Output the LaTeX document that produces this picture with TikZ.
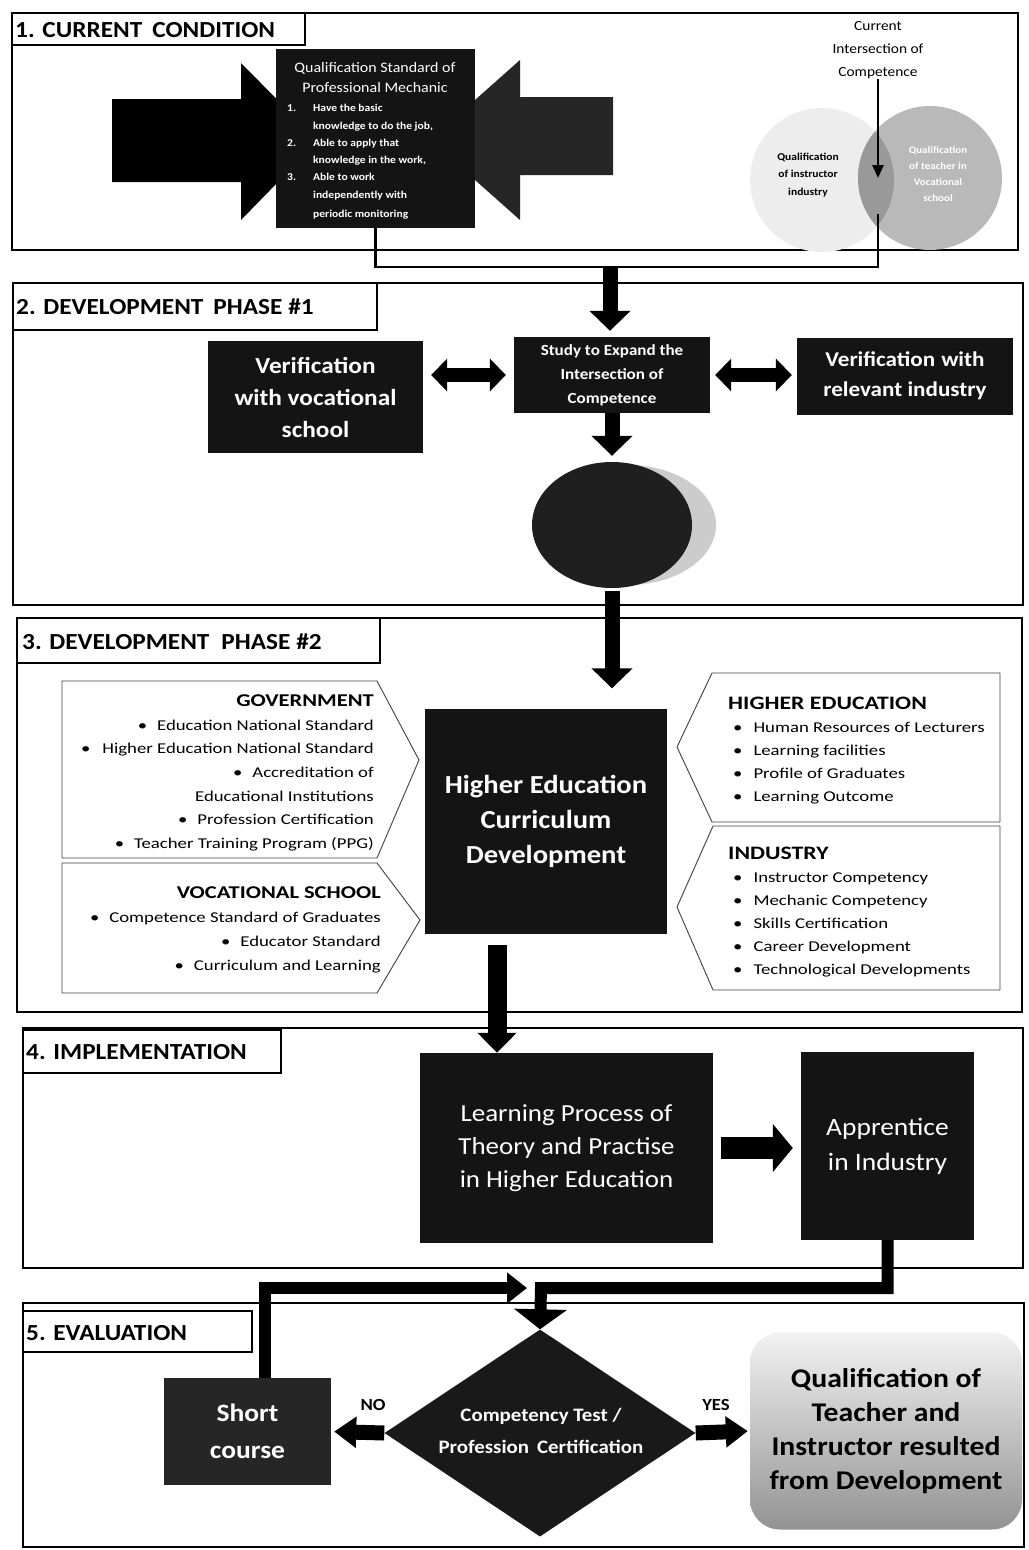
\documentclass[tikz,border=0pt]{standalone}
\usepackage{fontspec}
\setmainfont{Carlito}[FakeStretch=1.1]
\newfontfamily\widefont{Carlito}[FakeStretch=1.25]
\usetikzlibrary{arrows.meta,shapes.geometric}
\newcommand{\setfs}[2]{\fontsize{#1}{#2}\selectfont}
\begin{document}
\begin{tikzpicture}[x=1pt,y=-1pt,
  frame/.style={draw, line width=1.8pt},
  ttl/.style={draw, line width=1.4pt},
  ttltext/.style={anchor=base west, inner sep=0, font=\bfseries\setfs{23}{26}},
  blk/.style={fill=black!92, text=white, align=center, inner sep=0},
  chev/.style={draw=black!75, line width=0.9pt},
  lstl/.style={anchor=base west, inner sep=0, font=\widefont\setfs{15}{18}},
  lstr/.style={anchor=base east, inner sep=0, font=\widefont\setfs{15}{18}},
  hdl/.style={anchor=base west, inner sep=0, font=\widefont\bfseries\setfs{19}{22}},
  hdr/.style={anchor=base east, inner sep=0, font=\widefont\bfseries\setfs{18}{22}},
  qnum/.style={anchor=base west, inner sep=0, text=white, font=\bfseries\setfs{10.5}{13}},
  qtxt/.style={anchor=base west, inner sep=0, text=white, font=\bfseries\setfs{10.5}{13}},
  thin/.style={line width=2.6pt},
  vbar/.style={line width=15pt, -{Triangle[width=40pt,length=20pt]}},
  dbl/.style={line width=14pt, {Triangle[width=32pt,length=16pt]}-{Triangle[width=32pt,length=16pt]}},
  harr/.style={line width=22pt, -{Triangle[width=47pt,length=20pt]}},
  sarr/.style={line width=15pt, -{Triangle[width=30pt,length=22pt]}},
  elbow/.style={line width=12pt, line join=miter}
]
\useasboundingbox (0,0) rectangle (1028,1550);
\fill[white] (0,0) rectangle (1028,1550);

% ---------------- Section 1
\draw[frame] (12,13) rectangle (1018,250);
\draw[ttl] (12,13) rectangle (305,45);
\node[ttltext] (t1) at (15,37) {1. CURRENT\hspace{10pt}CONDITION};

\fill[black] (112,99) -- (241,99) -- (241,63) -- (318,141) -- (241,220) -- (241,182) -- (112,182) -- cycle;
\fill[black!85] (613,97) -- (520,97) -- (520,60) -- (430,140) -- (520,220) -- (520,175) -- (613,175) -- cycle;
\node[blk, minimum width=199pt, minimum height=179pt] (qs) at (375.5,138.5) {};
\node[anchor=base, inner sep=0, text=white, font=\setfs{14.5}{18}] (qsh1) at (375,72) {Qualification Standard of};
\node[anchor=base, inner sep=0, text=white, font=\setfs{14.5}{18}] (qsh2) at (375,92) {Professional Mechanic};
\node[qnum] (n1) at (287,111) {1.};
\node[qtxt] (l1a) at (313,111) {Have the basic};
\node[qtxt] (l1b) at (313,129) {knowledge to do the job,};
\node[qnum] (n2) at (287,146) {2.};
\node[qtxt] (l2a) at (313,146) {Able to apply that};
\node[qtxt] (l2b) at (313,163) {knowledge in the work,};
\node[qnum] (n3) at (287,180) {3.};
\node[qtxt] (l3a) at (313,180) {Able to work};
\node[qtxt] (l3b) at (313,198) {independently with};
\node[qtxt] (l3c) at (313,217) {periodic monitoring};

% Venn
\fill[gray!14] (822,180) circle[radius=72pt];
\fill[gray!55] (930,178) circle[radius=72pt];
\begin{scope}
  \clip (822,180) circle[radius=72pt];
  \fill[gray!80] (930,178) circle[radius=72pt];
\end{scope}
\node[align=center, inner sep=0, font=\bfseries\setfs{10.5}{17.5}] (vl) at (808,175) {Qualification\\of instructor\\industry};
\node[align=center, inner sep=0, text=white, font=\bfseries\setfs{10}{16}] (vr) at (938,174) {Qualification\\of teacher in\\Vocational\\school};
\node[align=center, inner sep=0, font=\setfs{14}{23}] (cur) at (878,50) {Current\\Intersection of\\Competence};
\coordinate (lensT) at (878,178);
\coordinate (lensB) at (878,214);
\coordinate (c1) at (878,267);
\coordinate (j1) at (610,267);
\draw[thin, -{Triangle[width=11pt,length=13pt]}] (cur.south) -- (lensT);
\draw[thin] (qs.south) |- (c1) -- (lensB);

% ---------------- Section 2
\draw[frame] (13,283) rectangle (1023,605);
\draw[ttl] (13,283) rectangle (377,330);
\node[ttltext] (t2) at (16,314) {2. DEVELOPMENT\hspace{10pt}PHASE \#1};
\node[blk, minimum width=215pt, minimum height=112pt, font=\bfseries\setfs{23}{32}] (ver1) at (315.5,397) {Verification\\with vocational\\school};
\node[blk, minimum width=196pt, minimum height=76pt, font=\bfseries\setfs{15.5}{24}] (study) at (612,375) {Study to Expand the\\Intersection of\\Competence};
\node[blk, minimum width=216pt, minimum height=77pt, font=\bfseries\setfs{21}{30}] (ver2) at (905,376) {Verification\hspace{6pt}with\\relevant industry};
\fill[gray!40] (628,525) ellipse [x radius=88pt, y radius=60pt];
\node[ellipse, fill=black!88, minimum width=160pt, minimum height=126pt, inner sep=0] (disc) at (612,525) {};

\draw[vbar, shorten >=6pt] (j1) -- (j1 |- study.north);
\draw[dbl, shorten <=8pt, shorten >=8pt] (ver1.east |- study.west) -- (study.west);
\draw[dbl, shorten <=5pt, shorten >=5pt] (study.east) -- (ver2.west |- study.east);
\draw[vbar, shorten >=6pt] (study.south) -- (study.south |- disc.north);

% ---------------- Section 3
\draw[frame] (17,618) rectangle (1022,1012);
\draw[ttl] (17,618) rectangle (380,663);
\node[ttltext] (t3) at (22,649) {3. DEVELOPMENT\hspace{12pt}PHASE \#2};
\node[blk, minimum width=242pt, minimum height=225pt, font=\bfseries\setfs{26}{35}] (hecd) at (546,821) {Higher Education\\Curriculum\\Development};
\draw[vbar, shorten <=3pt, shorten >=20pt] (disc.south) -- (disc.south |- hecd.north);

\draw[chev] (62,681) -- (377,681) -- (419,760) -- (377,858) -- (62,858) -- cycle;
\draw[chev] (62,863) -- (377,863) -- (420,920) -- (377,993) -- (62,993) -- cycle;
\draw[chev] (712,673) -- (1000,673) -- (1000,822) -- (712,822) -- (677,747) -- cycle;
\draw[chev] (713,826) -- (1000,826) -- (1000,990) -- (713,990) -- (677,907) -- cycle;

\node[hdr] (gh) at (374,706) {GOVERNMENT};
\node[lstr] (g1) at (374,730) {•\hspace{10pt}Education National Standard};
\node[lstr] (g2) at (374,753) {•\hspace{12pt}Higher Education National Standard};
\node[lstr] (g3) at (374,777) {•\hspace{10pt}Accreditation of};
\node[lstr] (g4) at (374,801) {Educational Institutions};
\node[lstr] (g5) at (374,824) {•\hspace{10pt}Profession Certification};
\node[lstr] (g6) at (374,848) {•\hspace{10pt}Teacher Training Program (PPG)};

\node[hdr] (vh) at (381,898) {VOCATIONAL SCHOOL};
\node[lstr] (v1) at (381,922) {•\hspace{10pt}Competence Standard of Graduates};
\node[lstr] (v2) at (381,946) {•\hspace{10pt}Educator Standard};
\node[lstr] (v3) at (381,970) {•\hspace{10pt}Curriculum and Learning};

\node[hdl] (hh) at (728,709) {HIGHER EDUCATION};
\node[lstl] (h1) at (733,732) {•\hspace{11pt}Human Resources of Lecturers};
\node[lstl] (h2) at (733,755) {•\hspace{11pt}Learning facilities};
\node[lstl] (h3) at (733,778) {•\hspace{11pt}Profile of Graduates};
\node[lstl] (h4) at (733,801) {•\hspace{11pt}Learning Outcome};

\node[hdl] (ih) at (728,859) {INDUSTRY};
\node[lstl] (i1) at (733,882) {•\hspace{11pt}Instructor Competency};
\node[lstl] (i2) at (733,905) {•\hspace{11pt}Mechanic Competency};
\node[lstl] (i3) at (733,928) {•\hspace{11pt}Skills Certification};
\node[lstl] (i4) at (733,951) {•\hspace{11pt}Career Development};
\node[lstl] (i5) at (733,974) {•\hspace{11pt}Technological Developments};

% ---------------- Section 4
\draw[frame] (23,1028) rectangle (1023,1268);
\draw[ttl] (23,1030) rectangle (281,1073);
\node[ttltext] (t4) at (26,1059) {4. IMPLEMENTATION};
\node[blk, minimum width=293pt, minimum height=190pt, font=\setfs{24.5}{33}] (learn) at (566.5,1148) {Learning Process of\\Theory and Practise\\in Higher Education};
\node[blk, minimum width=173pt, minimum height=188pt, font=\setfs{25}{35}] (app) at (887.5,1146) {Apprentice\\in Industry};
\coordinate (a4s) at (497,945);
\draw[line width=19pt, -{Triangle[width=38pt,length=20pt]}] (a4s) -- (a4s |- learn.north);
\draw[harr, shorten <=8pt, shorten >=8pt] (learn.east) -- (app.west |- learn.east);

% ---------------- Section 5
\draw[frame] (23,1303) rectangle (1024,1547);
\draw[ttl] (23,1311) rectangle (252,1352);
\node[ttltext] (t5) at (26,1340) {5. EVALUATION};
\node[blk, fill=black!85, minimum width=167pt, minimum height=107pt, font=\bfseries\setfs{25}{37}] (sc) at (247.5,1431.5) {Short\\course};
\node[diamond, fill=black!90, minimum width=311pt, minimum height=207pt, inner sep=0] (dia) at (540,1433) {};
\node[align=center, inner sep=0, text=white, font=\bfseries\setfs{19}{32}] (diat) at (541,1431) {Competency Test /\\Profession\hspace{8pt}Certification};
\node[rounded corners=30pt, top color=gray!10, middle color=gray!50, bottom color=gray!85, minimum width=272pt, minimum height=197pt, align=center, inner sep=0, font=\bfseries\setfs{27}{34}] (qual) at (886,1431) {Qualification of\\Teacher and\\Instructor resulted\\from Development};
\node[anchor=base, inner sep=0, font=\bfseries\setfs{17}{20}] (no) at (373,1410) {NO};
\node[anchor=base, inner sep=0, font=\bfseries\setfs{17}{20}] (yes) at (716,1410) {YES};

\coordinate (j2) at (541,1288);
\coordinate (j3) at (527,1288);
\draw[elbow, -{Triangle[width=52pt,length=20pt]}] (app.south) |- (j2) -- (dia.north);
\draw[elbow, -{Triangle[width=30pt,length=20pt]}] ([xshift=17pt]sc.north) |- (j3);
\draw[sarr, shorten >=3pt] (dia.west) -- (sc.east);
\draw[sarr, shorten >=2pt] (dia.east) -- (qual.west);
\end{tikzpicture}
\end{document}
